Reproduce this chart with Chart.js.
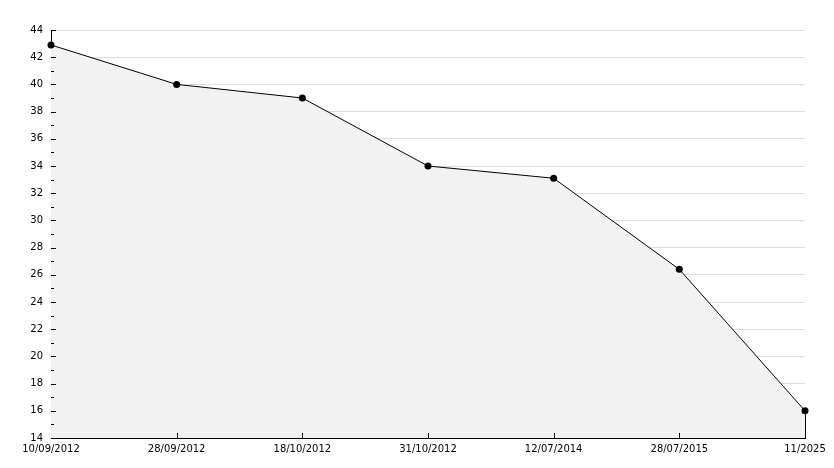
<!DOCTYPE html>
<html>
<head>
<meta charset="utf-8">
<script src="https://cdn.jsdelivr.net/npm/chart.js@4/dist/chart.umd.min.js"></script>
<style>
  html, body { margin: 0; padding: 0; background: #fff; }
  #wrap { width: 834px; height: 468px; }
</style>
</head>
<body>
<div id="wrap"><canvas id="chart"></canvas></div>
<script>
const dates = ['10/09/2012', '28/09/2012', '18/10/2012', '31/10/2012', '12/07/2014', '28/07/2015', '11/2025'];
const values = [42.9, 40, 39, 34, 33.1, 26.4, 16];
const yMin = 14;
const yMax = 44;

// small ticks drawn inside the plot, like the original
const innerTicks = {
    id: 'innerTicks',
    afterDatasetsDraw(chart) {
        const ctx = chart.ctx;
        const x = chart.scales.x;
        const y = chart.scales.y;
        const area = chart.chartArea;
        ctx.save();
        ctx.strokeStyle = '#000';
        ctx.lineWidth = 1;
        ctx.beginPath();
        for (let v = yMin + 1; v < yMax + 1; v++) {
            const py = Math.round(y.getPixelForValue(v)) + 0.5;
            const len = v % 2 === 0 ? 5 : 3;
            ctx.moveTo(area.left, py);
            ctx.lineTo(area.left + len, py);
        }
        for (let i = 1; i < dates.length - 1; i++) {
            const px = Math.round(x.getPixelForValue(i)) + 0.5;
            ctx.moveTo(px, area.bottom);
            ctx.lineTo(px, area.bottom - 5);
        }
        // closing edge of the filled area at the last point
        const last = dates.length - 1;
        const lx = Math.round(x.getPixelForValue(last)) + 0.5;
        ctx.moveTo(lx, y.getPixelForValue(values[last]));
        ctx.lineTo(lx, area.bottom);
        ctx.stroke();
        ctx.restore();
    }
};

new Chart(document.querySelector('#chart').getContext('2d'), {
    type: 'line',
    data: {
        labels: dates,
        datasets: [{
            data: values,
            borderColor: '#000',
            borderWidth: 1,
            backgroundColor: '#f2f2f2',
            fill: 'origin',
            tension: 0,
            pointRadius: 3.5,
            pointBackgroundColor: '#000',
            pointBorderColor: '#000',
            pointBorderWidth: 0
        }]
    },
    options: {
        responsive: true,
        maintainAspectRatio: false,
        animation: false,
        events: [],
        layout: { padding: { left: 0, right: 29, top: 30, bottom: 0 } },
        plugins: { legend: { display: false }, tooltip: { enabled: false } },
        scales: {
            x: {
                offset: false,
                grid: { display: false, drawTicks: false },
                border: { color: '#000', width: 1 },
                ticks: {
                    color: '#000',
                    font: { family: 'DejaVu Sans', size: 10 },
                    padding: 5,
                    maxRotation: 0,
                    autoSkip: false
                },
                afterFit(scale) { scale.height = 30; }
            },
            y: {
                min: yMin,
                max: yMax,
                grid: { color: '#dddddd', drawTicks: false },
                border: { color: '#000', width: 1 },
                ticks: {
                    stepSize: 2,
                    color: '#000',
                    font: { family: 'DejaVu Sans', size: 10 },
                    padding: 8
                },
                afterFit(scale) { scale.width = 51; }
            }
        }
    },
    plugins: [innerTicks]
});
</script>
</body>
</html>
